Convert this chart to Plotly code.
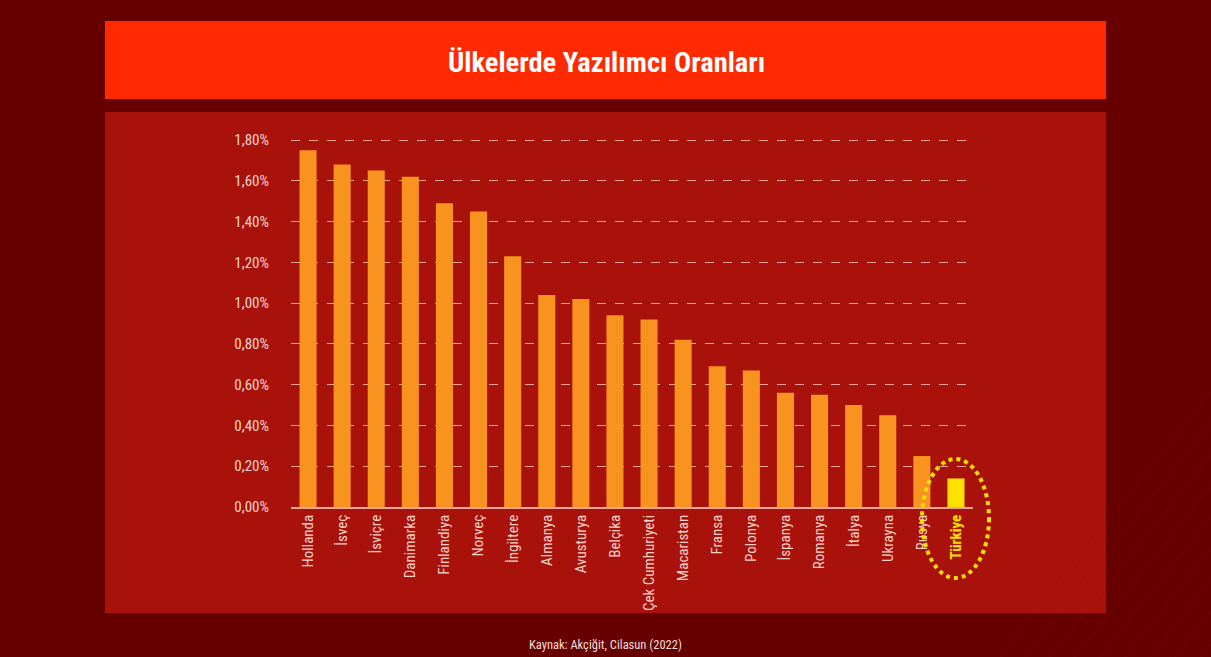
import plotly.graph_objects as go

countries = ['Hollanda', 'İsveç', 'İsviçre', 'Danimarka', 'Finlandiya', 'Norveç', 'İngiltere',
             'Almanya', 'Avusturya', 'Belçika', 'Çek Cumhuriyeti', 'Macaristan', 'Fransa',
             'Polonya', 'İspanya', 'Romanya', 'İtalya', 'Ukrayna', 'Rusya', 'Türkiye']
rates = [1.75, 1.68, 1.65, 1.62, 1.49, 1.45, 1.23, 1.04, 1.02, 0.94, 0.92, 0.82, 0.69,
         0.67, 0.56, 0.55, 0.50, 0.45, 0.25, 0.14]
y_ticks = [0.0, 0.2, 0.4, 0.6, 0.8, 1.0, 1.2, 1.4, 1.6, 1.8]
y_tick_labels = ['0,00%', '0,20%', '0,40%', '0,60%', '0,80%', '1,00%', '1,20%', '1,40%', '1,60%', '1,80%']
highlight = 'Türkiye'

TITLE = 'Ülkelerde Yazılımcı Oranları'
SOURCE = 'Kaynak: Akçiğit, Cilasun (2022)'

W, H = 1211, 657
PL, PR, PT, PB = 291, 973, 138, 507  # plot area in pixels
FONT = 'Roboto Condensed, Liberation Sans Narrow, DejaVu Sans Condensed, Roboto, sans-serif'
LABEL_COLOR = '#f3d3c9'


def px_x(x):
    return (x - PL) / (PR - PL)


def px_y(y):
    return (PB - y) / (PB - PT)


bar_colors = ['#ffe100' if c == highlight else '#f7931e' for c in countries]
tick_text = ["<span style='color:#ffe100'><b>%s</b></span>" % c if c == highlight else c
             for c in countries]

fig = go.Figure()
fig.add_trace(go.Bar(x=countries, y=rates, marker=dict(color=bar_colors, line=dict(width=0)),
                     width=0.5, hovertemplate='%{x}: %{y:.2f}%<extra></extra>'))

shapes = [
    # panel behind chart
    dict(type='rect', xref='paper', yref='paper', layer='below',
         x0=px_x(105), x1=px_x(1106), y0=px_y(613), y1=px_y(112),
         fillcolor='#a9120a', line=dict(width=0)),
    # title band
    dict(type='rect', xref='paper', yref='paper', layer='below',
         x0=px_x(105), x1=px_x(1106), y0=px_y(99), y1=px_y(21),
         fillcolor='#ff2a00', line=dict(width=0)),
    # dotted highlight ellipse
    dict(type='circle', xref='paper', yref='paper', layer='above',
         x0=px_x(922), x1=px_x(989), y0=px_y(578), y1=px_y(459),
         line=dict(color='#ffe100', width=4, dash='dot')),
]

# faint decorative diagonal strokes in the background
for i in range(12):
    x0 = 1000 + i * 25
    shapes.append(dict(type='line', xref='paper', yref='paper', layer='below',
                       x0=px_x(x0), y0=px_y(657), x1=px_x(x0 + 260), y1=px_y(330),
                       line=dict(color='rgba(255,60,40,0.10)', width=1)))

fig.update_layout(
    width=W, height=H, autosize=False,
    paper_bgcolor='#660000', plot_bgcolor='rgba(0,0,0,0)',
    margin=dict(l=PL, r=W - PR, t=PT, b=H - PB, pad=0),
    font=dict(family=FONT, color=LABEL_COLOR, size=13),
    showlegend=False,
    shapes=shapes,
    annotations=[
        dict(text='<b>' + TITLE + '</b>', xref='paper', yref='paper', x=px_x(606), y=px_y(62),
             showarrow=False, font=dict(family=FONT, size=28.5, color='white'),
             xanchor='center', yanchor='middle'),
        dict(text=SOURCE, xref='paper', yref='paper', x=px_x(605), y=px_y(644),
             showarrow=False, font=dict(family=FONT, size=12.5, color='#f6dcd4'),
             xanchor='center', yanchor='middle'),
    ],
)
fig.update_xaxes(type='category', tickmode='array', tickvals=countries, ticktext=tick_text,
                 tickangle=-90, tickfont=dict(size=15, color=LABEL_COLOR),
                 showgrid=False, showline=True, linecolor='#e9a49a', linewidth=1.5,
                 ticks='', range=[-0.5, len(countries) - 0.5], fixedrange=True)
fig.update_yaxes(range=[0, 1.81], tickmode='array', tickvals=y_ticks, ticktext=y_tick_labels,
                 tickfont=dict(size=15, color=LABEL_COLOR),
                 showgrid=True, gridcolor='#e9a49a', griddash='dash', gridwidth=1,
                 zeroline=False, showline=False, ticks='outside', ticklen=18,
                 tickcolor='rgba(0,0,0,0)', fixedrange=True)

fig.write_html("out.html", config=dict(displayModeBar=False),
               post_script="document.body.style.margin='0';document.body.style.overflow='hidden';")
